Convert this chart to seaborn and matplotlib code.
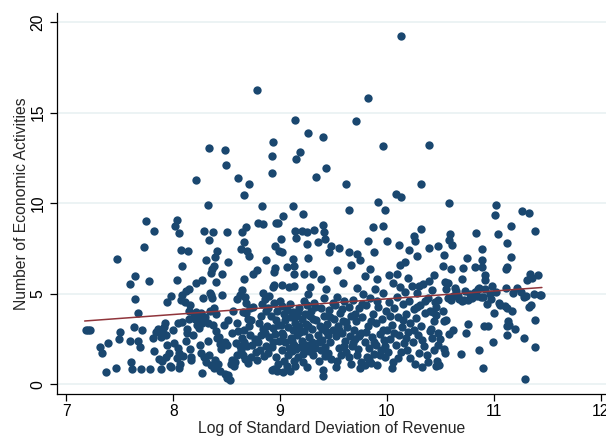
import matplotlib

matplotlib.use("Agg")

import matplotlib.pyplot as plt
import pandas as pd
import seaborn as sns

# (log sd of revenue, number of economic activities), grouped by region
outliers = [
    (10.13, 19.26), (8.78, 16.26), (9.82, 15.84), (9.14, 14.59), (9.71, 14.53), (9.26, 13.9),
    (9.40, 13.65), (8.93, 13.4), (8.33, 13.06), (8.48, 12.96), (9.96, 13.17), (10.39, 13.24),
    (9.19, 12.82), (8.92, 12.61), (9.15, 12.47), (8.49, 12.12), (9.43, 11.93), (8.92, 11.69),
    (8.61, 11.38), (9.34, 11.44), (8.21, 11.29), (8.71, 11.09), (9.62, 11.07), (10.32, 11.09),
    (8.66, 10.48), (10.08, 10.52), (10.13, 10.33), (9.92, 10.09), (10.58, 10.02), (11.02, 9.89),
    (8.32, 9.93), (8.83, 9.87), (9.12, 9.83), (9.98, 9.65), (9.64, 9.63), (11.26, 9.58),
    (11.33, 9.48), (9.21, 9.43), (11.01, 9.36), (9.03, 9.3),
]

upper = [
    (8.03, 9.08), (7.74, 9.02), (8.02, 8.75), (8.05, 8.38), (7.82, 8.45), (8.29, 8.45),
    (8.37, 8.4), (8.50, 8.43), (8.64, 8.4), (8.68, 8.67), (8.79, 8.9), (8.84, 8.86),
    (8.96, 8.91), (8.98, 8.9), (9.14, 8.49), (9.15, 8.1), (9.20, 8.45), (9.25, 8.4),
    (9.32, 8.53), (9.40, 8.8), (9.41, 8.4), (9.42, 8.05), (9.87, 8.71), (9.96, 8.77),
    (10.32, 8.58), (10.59, 8.29), (10.58, 8.0), (10.25, 8.21), (10.26, 7.94), (10.83, 8.38),
    (11.04, 8.32), (11.16, 8.75), (11.39, 8.45), (9.01, 8.05), (9.82, 7.92), (10.00, 7.9),
    (8.33, 7.97), (7.73, 7.61), (8.07, 7.42), (8.14, 7.37), (8.41, 7.35), (8.39, 7.03),
    (8.31, 6.89), (7.47, 6.94), (8.08, 6.56), (8.66, 7.85), (8.63, 7.48), (8.69, 7.35),
    (8.71, 7.07), (8.87, 6.87), (8.95, 7.64), (8.99, 7.38), (9.02, 7.3), (9.12, 6.94),
    (9.25, 7.77), (9.26, 7.0), (9.35, 7.85), (9.48, 7.66), (9.46, 7.31), (9.55, 7.53),
    (9.64, 7.29), (9.72, 7.2), (9.75, 6.89), (9.88, 7.29), (10.11, 7.7), (10.21, 7.44),
    (10.28, 7.07), (10.39, 7.55), (10.48, 7.66), (10.53, 7.16), (10.61, 7.7), (10.75, 6.96),
    (10.89, 7.5), (10.89, 6.89), (11.12, 7.81), (11.16, 7.05), (8.51, 6.78), (8.38, 6.52),
    (9.13, 6.56), (9.66, 6.58), (10.12, 6.61), (10.17, 6.76), (10.52, 6.56), (11.12, 6.5),
]

middle = [
    (7.64, 6.0), (7.59, 5.52), (7.77, 5.73), (8.03, 5.76), (8.21, 5.6), (8.27, 5.76),
    (8.36, 6.37), (8.46, 6.1), (8.35, 6.13), (8.66, 5.8), (8.75, 6.1), (8.78, 6.32),
    (8.95, 6.41), (8.94, 6.19), (8.94, 5.49), (8.93, 5.4), (9.06, 6.48), (9.02, 5.47),
    (9.13, 6.08), (9.13, 5.45), (9.22, 6.1), (9.31, 6.1), (9.38, 5.82), (9.28, 5.4),
    (9.53, 6.32), (9.59, 5.62), (9.79, 6.0), (9.84, 6.35), (9.91, 5.8), (10.02, 6.06),
    (10.06, 5.62), (10.09, 6.1), (10.20, 5.86), (10.30, 5.43), (10.39, 5.73), (10.44, 6.04),
    (10.54, 5.65), (10.57, 5.6), (10.60, 6.35), (10.71, 6.43), (10.70, 5.8), (10.82, 6.46),
    (10.89, 6.5), (10.92, 6.02), (10.92, 5.76), (10.98, 5.43), (11.11, 6.39), (11.34, 6.08),
    (11.41, 6.02), (11.31, 5.76), (11.36, 5.85), (8.40, 5.65), (9.08, 5.35), (10.12, 5.4),
    (10.23, 5.45), (10.34, 5.55), (9.43, 5.27),
]

low_left = [
    (7.18, 3.0), (7.20, 3.0), (7.22, 3.0), (7.31, 2.08), (7.33, 1.71), (7.39, 2.27),
    (7.37, 0.66), (7.46, 0.88), (7.50, 2.87), (7.49, 2.5), (7.59, 2.41), (7.60, 1.22),
    (7.61, 0.85), (7.63, 3.15), (7.64, 4.73), (7.67, 3.96), (7.67, 2.39), (7.69, 2.04),
    (7.70, 0.85), (7.71, 3.0), (7.78, 0.85), (7.81, 2.56), (7.82, 1.82), (7.84, 2.91),
    (7.86, 3.05), (7.87, 1.4), (7.88, 2.6), (7.88, 0.85), (7.90, 2.85), (7.89, 1.31),
    (7.91, 3.15), (7.92, 3.4), (7.93, 2.73), (7.93, 1.53), (7.94, 2.2), (7.94, 4.55),
    (7.96, 1.75), (7.97, 1.03), (7.98, 0.94), (7.98, 4.88), (8.00, 3.0),
]

low_8 = [
    (8.01, 2.3), (8.03, 1.45), (8.04, 2.0), (8.04, 3.41), (8.05, 0.9), (8.05, 1.71),
    (8.06, 1.15), (8.07, 4.66), (8.08, 3.45), (8.08, 4.95), (8.09, 1.55), (8.11, 4.55),
    (8.12, 5.15), (8.13, 3.05), (8.13, 2.85), (8.15, 4.05), (8.15, 5.25), (8.15, 3.6),
    (8.16, 4.36), (8.16, 1.95), (8.17, 1.5), (8.17, 1.35), (8.18, 2.7), (8.19, 3.8),
    (8.20, 3.6), (8.21, 4.0), (8.22, 3.3), (8.22, 3.55), (8.24, 3.1), (8.24, 3.7),
    (8.26, 1.75), (8.26, 3.95), (8.27, 3.4), (8.27, 0.65), (8.28, 4.75), (8.29, 1.5),
    (8.32, 2.39), (8.31, 1.25), (8.32, 3.4), (8.33, 1.65), (8.34, 4.05), (8.34, 5.05),
    (8.35, 1.05), (8.35, 4.95), (8.36, 4.75), (8.37, 3.3), (8.38, 0.9), (8.38, 4.2),
    (8.39, 1.35), (8.40, 3.9), (8.41, 2.55), (8.42, 1.15), (8.43, 2.6), (8.44, 0.75),
    (8.44, 2.25), (8.45, 1.95), (8.46, 4.95), (8.47, 3.3), (8.48, 2.35), (8.48, 0.55),
    (8.50, 0.35), (8.50, 2.15), (8.51, 3.55), (8.40, 2.95), (8.25, 2.2), (8.12, 2.4),
    (8.30, 3.7),
]

low_85 = [
    (8.51, 0.5), (8.53, 0.25), (8.54, 1.15), (8.55, 1.35), (8.56, 4.05), (8.57, 1.0),
    (8.58, 1.25), (8.59, 2.3), (8.60, 4.7), (8.60, 3.4), (8.61, 2.95), (8.62, 2.1),
    (8.62, 4.95), (8.63, 1.9), (8.64, 5.2), (8.64, 2.55), (8.65, 4.0), (8.65, 1.65),
    (8.66, 3.0), (8.66, 2.35), (8.67, 4.85), (8.67, 1.4), (8.68, 3.95), (8.69, 2.1),
    (8.70, 1.2), (8.70, 3.6), (8.71, 3.2), (8.72, 2.75), (8.72, 4.2), (8.73, 1.5),
    (8.74, 2.2), (8.75, 4.3), (8.76, 2.5), (8.77, 1.8), (8.79, 2.35), (8.80, 3.4),
    (8.81, 1.9), (8.82, 2.7), (8.83, 4.45), (8.84, 5.05), (8.84, 3.05), (8.85, 1.55),
    (8.86, 4.7), (8.87, 2.1), (8.87, 4.05), (8.88, 3.2), (8.89, 1.75), (8.89, 4.2),
    (8.90, 2.6), (8.91, 3.75), (8.92, 0.8), (8.92, 2.05), (8.93, 3.1), (8.94, 0.85),
    (8.94, 4.5), (8.95, 2.8), (8.96, 1.5), (8.96, 3.55), (8.97, 0.75), (8.97, 4.05),
    (8.98, 1.15), (8.99, 2.4), (9.00, 4.6), (8.55, 2.85), (8.60, 1.6), (8.68, 4.5),
    (8.73, 3.55), (8.78, 1.35), (8.82, 3.8), (8.86, 2.85), (8.90, 4.9), (8.93, 2.35),
    (8.98, 3.3),
]

low_9 = [
    (9.01, 3.3), (9.02, 1.9), (9.02, 4.35), (9.03, 0.7), (9.03, 2.7), (9.04, 3.9),
    (9.04, 1.3), (9.05, 2.35), (9.06, 4.1), (9.06, 1.0), (9.07, 3.15), (9.07, 1.6),
    (9.08, 2.0), (9.09, 0.75), (9.10, 2.55), (9.10, 3.7), (9.11, 1.85), (9.12, 4.0),
    (9.12, 3.0), (9.13, 1.3), (9.13, 2.2), (9.14, 3.4), (9.15, 1.95), (9.15, 3.8),
    (9.16, 2.7), (9.17, 1.5), (9.18, 3.2), (9.18, 4.2), (9.19, 2.05), (9.20, 2.4),
    (9.20, 3.6), (9.21, 1.7), (9.22, 2.95), (9.22, 4.6), (9.23, 1.95), (9.24, 3.35),
    (9.24, 2.2), (9.25, 0.95), (9.25, 4.4), (9.26, 5.0), (9.27, 2.6), (9.27, 1.85),
    (9.28, 3.75), (9.29, 4.05), (9.30, 3.05), (9.30, 2.35), (9.31, 1.6), (9.32, 4.5),
    (9.33, 2.0), (9.34, 3.55), (9.35, 2.75), (9.36, 1.3), (9.37, 3.25), (9.38, 4.2),
    (9.38, 1.9), (9.39, 2.45), (9.40, 0.45), (9.40, 0.8), (9.41, 3.8), (9.41, 4.75),
    (9.42, 2.05), (9.43, 2.95), (9.44, 3.35), (9.45, 1.75), (9.46, 4.1), (9.47, 2.35),
    (9.48, 1.4), (9.49, 3.0), (9.52, 0.95), (9.02, 2.85), (9.05, 3.55), (9.09, 4.45),
    (9.11, 2.4), (9.14, 1.0), (9.17, 4.0), (9.19, 2.9), (9.21, 1.25), (9.23, 3.9),
    (9.26, 3.2), (9.29, 2.1), (9.31, 3.6), (9.33, 4.3), (9.36, 2.35), (9.39, 3.05),
    (9.42, 1.55), (9.45, 2.7), (9.47, 3.7), (9.49, 4.5),
]

low_95 = [
    (9.50, 3.6), (9.51, 4.4), (9.52, 2.65), (9.53, 4.85), (9.54, 3.25), (9.55, 2.0),
    (9.56, 3.95), (9.57, 1.6), (9.58, 2.85), (9.59, 3.5), (9.60, 4.6), (9.61, 2.4),
    (9.62, 1.8), (9.63, 3.15), (9.64, 4.3), (9.64, 1.5), (9.65, 2.65), (9.66, 3.8),
    (9.67, 2.1), (9.68, 4.65), (9.69, 3.0), (9.70, 2.5), (9.71, 3.5), (9.72, 5.3),
    (9.73, 1.95), (9.74, 4.2), (9.75, 0.9), (9.76, 2.85), (9.76, 1.25), (9.77, 3.7),
    (9.78, 5.0), (9.79, 2.35), (9.79, 1.05), (9.80, 4.4), (9.81, 1.5), (9.82, 3.2),
    (9.83, 2.0), (9.84, 4.75), (9.85, 1.2), (9.86, 2.6), (9.87, 3.9), (9.88, 1.7),
    (9.89, 5.25), (9.90, 3.4), (9.90, 2.2), (9.91, 1.05), (9.92, 4.3), (9.93, 2.8),
    (9.94, 1.9), (9.95, 3.6), (9.96, 5.05), (9.97, 2.45), (9.98, 1.5), (9.99, 4.05),
    (10.00, 3.0), (9.53, 1.3), (9.55, 3.0), (9.58, 4.15), (9.60, 2.1), (9.62, 3.45),
    (9.66, 1.15), (9.68, 2.3), (9.70, 3.9), (9.72, 1.6), (9.74, 2.65), (9.77, 4.45),
    (9.80, 2.9), (9.83, 1.4), (9.85, 3.5), (9.88, 2.35), (9.91, 4.6), (9.93, 1.6),
    (9.96, 3.0), (9.98, 2.1),
]

low_10 = [
    (10.01, 1.8), (10.02, 4.55), (10.03, 2.5), (10.05, 0.9), (10.05, 3.3), (10.06, 1.25),
    (10.07, 4.2), (10.08, 2.15), (10.09, 4.8), (10.10, 3.7), (10.11, 2.7), (10.13, 1.8),
    (10.14, 3.15), (10.15, 4.45), (10.16, 2.3), (10.17, 5.1), (10.18, 3.9), (10.19, 1.9),
    (10.20, 2.9), (10.21, 4.6), (10.22, 3.4), (10.24, 2.35), (10.25, 4.15), (10.26, 1.1),
    (10.27, 3.65), (10.28, 5.05), (10.29, 2.7), (10.30, 1.75), (10.31, 4.4), (10.32, 3.2),
    (10.33, 0.95), (10.35, 2.1), (10.36, 3.95), (10.37, 1.6), (10.38, 4.75), (10.40, 2.95),
    (10.42, 5.2), (10.44, 3.5), (10.46, 4.25), (10.48, 2.2), (10.48, 2.85), (10.47, 1.3),
    (10.49, 1.05), (10.46, 1.0), (10.38, 1.25), (10.44, 1.9), (10.42, 2.55), (10.41, 3.05),
    (10.43, 4.0), (10.46, 3.85), (10.48, 4.65), (10.45, 4.55), (10.40, 4.05), (10.03, 3.8),
    (10.07, 2.85), (10.10, 1.45), (10.15, 3.55), (10.18, 2.55), (10.22, 1.45), (10.25, 3.0),
    (10.28, 4.3), (10.33, 2.45), (10.36, 4.6),
]

low_right = [
    (11.43, 4.92), (11.38, 5.0), (11.33, 4.29), (11.28, 4.8), (11.39, 3.55), (11.39, 2.04),
    (11.29, 0.29), (11.28, 2.58), (11.20, 3.08), (11.17, 4.07), (11.12, 4.2), (11.18, 5.05),
    (11.11, 5.3), (11.10, 4.35), (11.13, 3.5), (11.12, 3.2), (11.12, 2.75), (11.05, 4.5),
    (11.02, 5.1), (11.00, 3.95), (10.99, 2.35), (10.95, 3.25), (10.94, 4.45), (10.92, 5.25),
    (10.90, 4.85), (10.88, 4.8), (10.85, 5.25), (10.82, 5.1), (10.80, 4.75), (10.78, 5.0),
    (10.76, 4.65), (10.73, 5.15), (10.70, 4.6), (10.66, 4.9), (10.65, 5.15), (10.60, 4.65),
    (10.57, 4.75), (10.55, 5.25), (10.90, 0.9), (10.86, 1.9), (10.91, 3.25), (10.76, 3.35),
    (10.74, 2.85), (10.69, 1.7), (10.62, 3.0), (10.58, 2.8), (10.55, 3.55), (10.53, 3.5),
    (10.53, 1.95), (10.54, 1.75), (10.50, 2.5), (10.62, 4.9), (10.64, 5.3), (10.67, 4.7),
    (10.72, 4.65), (10.84, 4.9), (10.86, 5.3), (10.96, 5.0), (10.97, 4.7), (11.06, 4.4),
    (11.22, 5.3), (11.25, 5.1), (11.30, 4.9), (11.35, 4.4), (11.44, 4.95), (10.52, 4.05),
    (11.14, 3.3),
]

# fitted line end points
fit_x = [7.17, 11.45]
fit_y = [3.5, 5.35]

x_ticks = [7, 8, 9, 10, 11, 12]
y_ticks = [0, 5, 10, 15, 20]

NAVY = "#1a476f"
MAROON = "#90353b"
FONT_SIZE = 11.3


def main() -> None:
    rows = outliers + upper + middle + low_left + low_8 + low_85 + low_9 + low_95 + low_10 + low_right
    df = pd.DataFrame(rows, columns=["log_sd", "activities"])
    fit = pd.DataFrame({"log_sd": fit_x, "activities": fit_y})

    sns.set_theme(style="white")
    plt.rcParams["font.family"] = ["Liberation Sans", "DejaVu Sans"]

    fig = plt.figure(figsize=(6.06, 4.38), dpi=100)
    ax = fig.add_axes([0.0935, 0.1005, 0.9065, 0.8695])

    ax.set_ylim(-0.53, 20.5)
    ax.set_xlim(6.908, 12.05)
    ax.set_yticks(y_ticks)
    ax.set_xticks(x_ticks)
    ax.yaxis.grid(True, color="#eaf2f3", linewidth=1.3)
    ax.set_axisbelow(True)

    sns.scatterplot(data=df, x="log_sd", y="activities", ax=ax, color=NAVY,
                    s=36, linewidth=0, zorder=3)
    sns.lineplot(data=fit, x="log_sd", y="activities", ax=ax, color=MAROON,
                 linewidth=1.1, zorder=4)

    for side in ["top", "right"]:
        ax.spines[side].set_visible(False)
    for side in ["left", "bottom"]:
        ax.spines[side].set_color("black")
        ax.spines[side].set_linewidth(0.9)

    ax.tick_params(axis="both", direction="out", length=5, width=0.9, color="black",
                   labelsize=FONT_SIZE, labelcolor="black", left=True, bottom=True)
    ax.tick_params(axis="x", pad=2.5)
    ax.tick_params(axis="y", pad=3)
    plt.setp(ax.get_yticklabels(), rotation=90, va="center")

    ax.set_xlabel("Log of Standard Deviation of Revenue", fontsize=FONT_SIZE, labelpad=1)
    ax.set_ylabel("Number of Economic Activities", fontsize=FONT_SIZE, labelpad=1)

    fig.savefig("out.png", dpi=100)
    plt.close(fig)


if __name__ == "__main__":
    main()
